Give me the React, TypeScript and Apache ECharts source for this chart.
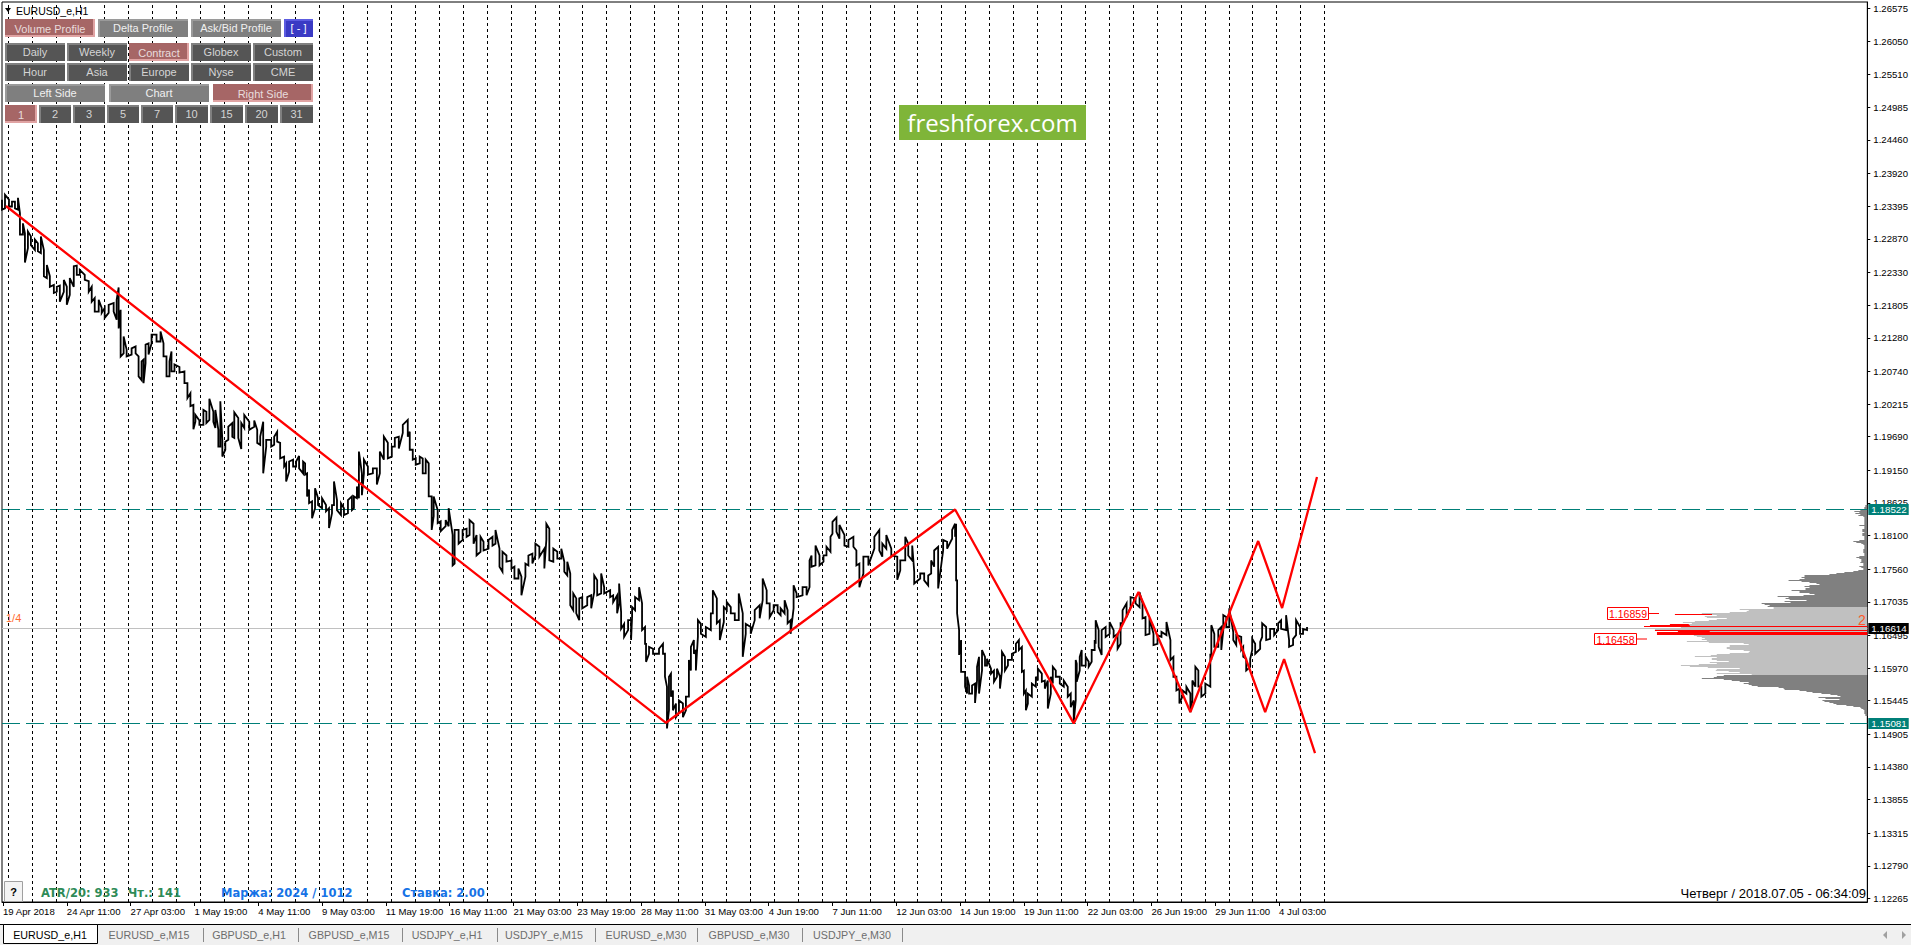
import React, { useEffect, useRef } from "react";
import * as echarts from "echarts";

// ---- price bars: bar position, high and low in pips (1/10000) ----
const barIndex = [
  0,3,7,10,13,16,18,21,23,26,29,33,36,39,42,45,48,52,55,58,62,65,68,72,75,78,83,87,90,93,97,100,103,107,112,115,117,119,122,125,130,134,137,140,142,144,147,150,155,159,162,165,168,170,173,178,183,186,189,192,194,198,202,205,208,212,214,217,219,221,224,227,231,233,237,240,243,248,253,256,259,262,265,270,273,276,279,283,285,288,292,295,298,302,304,306,308,311,314,317,321,325,328,331,333,336,340,343,347,351,353,356,358,361,363,367,372,376,379,383,387,391,394,398,402,407,409,412,415,419,422,425,428,431,433,437,440,445,448,
  452,454,458,462,466,469,473,476,480,483,488,492,495,499,502,506,511,514,518,521,525,528,532,535,539,544,546,549,553,557,561,564,567,570,573,576,579,582,587,591,594,597,601,604,610,613,617,619,621,624,628,631,632,635,639,642,645,646,649,653,659,663,665,667,669,671,673,676,679,683,686,689,691,694,696,698,701,706,711,713,717,720,724,727,731,735,739,743,746,751,755,760,763,767,770,774,778,781,785,788,791,794,797,803,807,810,812,816,820,824,827,831,833,837,840,845,849,854,857,860,864,869,875,880,883,887,892,898,901,906,909,913,915,921,925,929,932,935,939,944,948,953,956,957,958,960,962,966,968,
  970,973,976,978,980,983,986,988,992,995,998,1001,1003,1006,1009,1013,1017,1020,1023,1025,1027,1029,1033,1037,1039,1043,1046,1049,1052,1054,1057,1061,1065,1069,1072,1075,1077,1078,1081,1083,1087,1090,1093,1096,1097,1100,1103,1107,1111,1115,1119,1122,1124,1128,1132,1137,1141,1144,1147,1151,1155,1159,1163,1168,1172,1175,1178,1181,1184,1188,1192,1194,1197,1200,1203,1207,1212,1213,1216,1220,1223,1225,1228,1231,1235,1238,1243,1245,1248,1252,1254,1257,1262,1264,1268,1272,1276,1280,1283,1288,1291,1295,1298,1302,1305,1309,
];
const barHigh = [
  12350,12358,12350,12347,12347,12353,12328,12312,12296,12299,12291,12286,12280,12291,12269,12245,12227,12213,12210,12212,12221,12210,12224,12243,12244,12237,12229,12219,12210,12192,12189,12176,12176,12181,12184,12189,12209,12173,12130,12109,12111,12114,12098,12090,12093,12117,12119,12133,12133,12138,12119,12098,12090,12106,12085,12081,12074,12055,12039,12020,12004,11995,12012,12009,12030,12009,12012,11980,12026,11964,11961,11985,11991,12008,11999,11991,12004,11993,11995,11980,11969,11993,11964,11964,11969,11977,11959,11937,11926,11929,11932,11929,11938,11929,11926,11910,11884,11865,11886,11870,11870,11859,11854,11859,11897,11867,11862,11854,11867,11873,11873,11889,11945,11910,11932,11921,11918,11918,11945,11969,11959,11953,11967,11969,11988,11996,11977,11948,11934,11937,11934,11932,11926,11873,11873,11851,11833,11835,11854,
  11811,11819,11819,11819,11821,11835,11829,11811,11808,11800,11803,11808,11819,11789,11784,11778,11770,11760,11757,11744,11765,11778,11781,11797,11792,11789,11829,11821,11789,11784,11789,11768,11768,11749,11717,11709,11709,11711,11711,11714,11746,11738,11749,11727,11722,11714,11714,11733,11687,11668,11674,11674,11695,11711,11727,11701,11663,11636,11631,11628,11628,11636,11620,11567,11583,11588,11561,11540,11545,11540,11551,11610,11631,11642,11626,11674,11668,11663,11685,11722,11709,11674,11695,11703,11695,11685,11717,11685,11668,11663,11690,11698,11741,11722,11701,11698,11698,11693,11706,11690,11674,11730,11717,11727,11727,11770,11778,11794,11778,11778,11792,11808,11832,11839,11827,11811,11803,11808,11786,11765,11776,11776,11808,11819,11797,11811,11789,11776,11770,11808,11797,11794,11752,11749,11749,11746,11770,11786,11792,11803,11800,11819,11829,11829,11738,11658,11642,11591,11583,
  11569,11569,11572,11599,11615,11626,11615,11612,11596,11593,11596,11583,11623,11615,11610,11620,11636,11642,11631,11593,11561,11556,11572,11583,11596,11588,11577,11577,11583,11599,11593,11583,11577,11567,11556,11545,11610,11604,11615,11626,11615,11607,11626,11642,11674,11658,11658,11663,11671,11658,11652,11669,11690,11701,11711,11709,11719,11701,11679,11677,11652,11650,11655,11671,11642,11615,11583,11564,11561,11567,11556,11577,11599,11593,11567,11572,11620,11666,11652,11658,11663,11682,11679,11693,11655,11650,11647,11631,11612,11612,11644,11636,11639,11669,11663,11660,11660,11669,11674,11682,11642,11644,11674,11663,11660,11663,
];
const barLow = [
  12334,12336,12339,12339,12336,12334,12294,12294,12249,12272,12277,12269,12267,12264,12227,12224,12210,12200,12202,12186,12202,12181,12197,12210,12229,12229,12221,12202,12186,12170,12170,12168,12160,12168,12170,12157,12143,12098,12103,12098,12101,12103,12066,12060,12055,12087,12101,12119,12122,12122,12098,12066,12066,12074,12074,12072,12055,12031,12018,11981,11993,11988,11988,11991,11996,11993,11983,11953,11953,11937,11948,11964,11969,11967,11967,11949,11983,11980,11985,11959,11956,11910,11953,11953,11956,11961,11934,11921,11897,11913,11921,11921,11918,11910,11908,11873,11862,11838,11854,11859,11854,11849,11822,11846,11859,11851,11843,11843,11846,11851,11854,11870,11870,11875,11910,11908,11910,11892,11910,11932,11934,11937,11953,11950,11975,11969,11948,11932,11924,11926,11910,11910,11873,11819,11841,11830,11817,11825,11825,
  11762,11765,11797,11803,11808,11811,11797,11778,11784,11786,11789,11794,11797,11760,11752,11768,11757,11741,11741,11714,11744,11762,11765,11778,11776,11757,11803,11770,11768,11773,11773,11752,11746,11698,11690,11685,11674,11693,11698,11693,11719,11714,11717,11717,11711,11703,11685,11701,11660,11647,11658,11642,11679,11690,11706,11658,11636,11607,11620,11620,11620,11620,11583,11500,11529,11551,11529,11518,11526,11518,11529,11551,11593,11620,11593,11647,11652,11647,11658,11685,11669,11642,11671,11690,11685,11674,11674,11615,11652,11652,11674,11677,11706,11701,11679,11690,11687,11682,11685,11669,11652,11693,11711,11714,11714,11727,11760,11762,11762,11768,11778,11784,11813,11816,11805,11794,11792,11792,11762,11727,11749,11762,11789,11786,11776,11789,11778,11739,11754,11770,11778,11770,11733,11741,11738,11730,11749,11760,11725,11786,11789,11805,11808,11738,11685,11618,11591,11567,11556,
  11556,11556,11541,11577,11556,11593,11601,11601,11588,11575,11583,11564,11593,11593,11601,11610,11623,11626,11591,11556,11529,11540,11551,11567,11577,11575,11564,11532,11556,11572,11583,11572,11567,11551,11534,11510,11545,11575,11593,11601,11601,11599,11607,11626,11636,11631,11618,11647,11652,11647,11628,11636,11669,11679,11695,11701,11695,11677,11650,11652,11634,11636,11647,11650,11610,11583,11561,11540,11551,11556,11526,11545,11567,11567,11551,11556,11567,11610,11631,11631,11626,11658,11663,11663,11642,11634,11626,11615,11593,11599,11626,11620,11628,11647,11642,11644,11650,11658,11660,11658,11631,11634,11650,11652,11652,11658,
];

// ---- red zigzag: bar position and price ----
const zigzagBars = [4, 666, 956, 1075, 1140, 1192, 1231];
const zigzagPrices = [1.23398, 1.1509, 1.18519, 1.1508, 1.17192, 1.15263, 1.16855];
const upperBranchBars = [1231, 1260, 1284, 1319];
const upperBranchPrices = [1.16855, 1.18012, 1.16935, 1.19041];
const lowerBranchBars = [1231, 1267, 1286, 1317];
const lowerBranchPrices = [1.16855, 1.15263, 1.16115, 1.14604];

// ---- levels ----
const resistanceLevel = 1.18522;
const supportLevel = 1.15081;
const currentPrice = 1.16614;
const plotEnd = 1871;
const axisMinPrice = 1.12209;
const axisMaxPrice = 1.26678;
const plotTop = 2;
const plotBottomGap = 45;
const pageHeight = 947;

// ---- volume profile (one row per price step, top to bottom) ----
const profileTopPrice = 1.18591;
const profileStep = 0.00016077;
const valueAreaHigh = 1.16959;
const valueAreaLow = 1.15866;
const profileVolumes = [
  2,2,3,3,5,7,13,8,12,7,9,4,3,3,3,3,3,3,3,3,8,3,3,3,5,5,5,3,5,5,5,3,3,3,3,8,14,11,6,4,3,3,3,3,4,4,4,4,3,3,3,8,11,8,6,6,6,7,4,4,4,8,6,4,4,9,14,23,31,38,
  63,63,66,63,68,79,66,58,51,48,58,63,58,62,62,76,68,68,58,53,64,90,79,82,78,61,83,77,106,103,98,100,
  94,94,128,119,121,138,166,159,151,163,161,141,151,159,173,185,176,179,178,224,187,213,213,213,158,211,211,211,
  174,171,166,163,166,161,181,159,124,119,138,138,141,141,138,124,118,119,138,151,157,173,151,156,156,151,139,158,151,169,187,178,160,128,151,152,139,128,151,116,
  144,151,154,166,144,136,128,119,124,119,116,110,89,84,83,68,61,55,46,37,30,27,49,42,28,45,43,38,34,31,21,14,7,6,4,3,3,3,3,2,2,
];
const peakPrices = [1.16839, 1.16678, 1.16662, 1.16646, 1.16614, 1.16581, 1.16565, 1.16549, 1.16533, 1.16517];
const peakFrom = [159, 179, 178, 0, 0, 0, 158, 0, 0, 0];
const peakTo = [193, 198, 218, 224, 213, 213, 190, 211, 211, 211];

// ---- axes ----
const dayLineBars = [
  6,30,54,78,102,126,150,174,198,222,246,270,294,318,342,366,390,414,438,462,486,510,534,558,582,606,630,654,678,702,726,750,774,798,822,846,870,894,918,942,966,990,1014,1038,1062,1086,1110,1134,1158,1182,1206,1230,1254,1278,1302,1326,
];
const timeTickBars = [1,65,129,193,257,321,385,449,513,577,641,705,769,833,897,961,1025,1089,1153,1217,1281];
const timeTickLabels = [
  "19 Apr 2018","24 Apr 11:00","27 Apr 03:00","1 May 19:00","4 May 11:00","9 May 03:00","11 May 19:00","16 May 11:00","21 May 03:00","23 May 19:00","28 May 11:00","31 May 03:00","4 Jun 19:00","7 Jun 11:00","12 Jun 03:00","14 Jun 19:00","19 Jun 11:00","22 Jun 03:00","26 Jun 19:00","29 Jun 11:00","4 Jul 03:00",
];
const priceTicks = [
  1.26575,1.2605,1.2551,1.24985,1.2446,1.2392,1.23395,1.2287,1.2233,1.21805,1.2128,1.2074,1.20215,1.1969,1.1915,1.18625,1.181,1.1756,1.17035,1.16495,1.1597,1.15445,1.14905,1.1438,1.13855,1.13315,1.1279,1.12265,
];

// ---- panel buttons ----
const buttonLabels = [
  "Volume Profile","Delta Profile","Ask/Bid Profile","[ - ]",
  "Daily","Weekly","Contract","Globex","Custom",
  "Hour","Asia","Europe","Nyse","CME",
  "Left Side","Chart","Right Side",
  "1","2","3","5","7","10","15","20","31",
];
const buttonKinds = [
  "on","mid","mid","blue",
  "dark","dark","on","dark","dark",
  "dark","dark","dark","dark","dark",
  "mid","mid","on",
  "on","dark","dark","dark","dark","dark","dark","dark","dark",
];
const buttonBoxes = [
  [5,19,90,18],[98,19,90,18],[191,19,90,18],[284,19,29,18],
  [5,43,60,18],[67,43,60,18],[129,43,60,18],[191,43,60,18],[253,43,60,18],
  [5,63,60,18],[67,63,60,18],[129,63,60,18],[191,63,60,18],[253,63,60,18],
  [5,84,100,18],[109,84,100,18],[213,84,100,18],
  [5,105,32,18],[39,105,32,18],[73,105,32,18],[107,105,32,18],[141,105,32,18],[175,105,33,18],[210,105,33,18],[245,105,33,18],[280,105,33,18],
];

// ---- tabs ----
const tabLabels = ["EURUSD_e,H1","EURUSD_e,M15","GBPUSD_e,H1","GBPUSD_e,M15","USDJPY_e,H1","USDJPY_e,M15","EURUSD_e,M30","GBPUSD_e,M30","USDJPY_e,M30"];
const tabCenters = [50,149,249,349,447,544,646,749,852];
const tabSeparators = [203,298,402,497,595,697,802,902];

const UI_FONT = '"Liberation Sans", Arial, sans-serif';

function buttonElements() {
  const palette: Record<string, string[]> = {
    on: ["#a66666", "#e0a3a3", "#e8dcdc"],
    mid: ["#7f7f7f", "#9a9a9a", "#f0f0f0"],
    dark: ["#555555", "#808080", "#d4d4d4"],
    blue: ["#3a3ac4", "#5c5ce0", "#ffffff"],
  };
  const out: any[] = [];
  buttonLabels.forEach((label, i) => {
    const [x, y, w, h] = buttonBoxes[i];
    const kind = buttonKinds[i];
    const [fill, edge, text] = palette[kind];
    out.push({ type: "rect", z: 100, shape: { x, y, width: w, height: h }, style: { fill: edge } });
    const pressed = kind === "on";
    out.push({
      type: "rect",
      z: 101,
      shape: pressed ? { x, y, width: w - 2, height: h - 2 } : { x: x + 2, y: y + 2, width: w - 2, height: h - 2 },
      style: { fill },
    });
    out.push({
      type: "text",
      z: 102,
      x: x + w / 2,
      y: y + h / 2 + (pressed ? 1 : 0),
      style: { text: label, fill: text, font: `11px ${UI_FONT}`, align: "center", verticalAlign: "middle" },
    });
  });
  return out;
}

function tabElements() {
  const out: any[] = [
    { type: "rect", z: 90, shape: { x: 0, y: 925, width: 1911, height: 20 }, style: { fill: "#f0f0f0" } },
    { type: "line", z: 92, shape: { x1: 0, y1: 924.5, x2: 1911, y2: 924.5 }, style: { stroke: "#000", lineWidth: 1 } },
    { type: "rect", z: 93, shape: { x: 3.5, y: 924.5, width: 94, height: 19 }, style: { fill: "#fff", stroke: "#000", lineWidth: 1 } },
    { type: "polygon", z: 93, shape: { points: [[1887, 931], [1883, 935], [1887, 939]] }, style: { fill: "#a0a0a0" } },
    { type: "polygon", z: 93, shape: { points: [[1902, 931], [1906, 935], [1902, 939]] }, style: { fill: "#a0a0a0" } },
  ];
  tabLabels.forEach((t, i) => {
    out.push({
      type: "text",
      z: 94,
      x: tabCenters[i],
      y: 935,
      style: { text: t, fill: i === 0 ? "#000" : "#6d6d6d", font: `10.7px ${UI_FONT}`, align: "center", verticalAlign: "middle" },
    });
  });
  tabSeparators.forEach((x) => {
    out.push({ type: "line", z: 94, shape: { x1: x + 0.5, y1: 928, x2: x + 0.5, y2: 942 }, style: { stroke: "#8a8a8a", lineWidth: 1 } });
  });
  return out;
}

function annotationElements() {
  const boxed = (text: string, x: number, y: number, w: number, h: number, tickFrom: number, tickTo: number) => [
    { type: "rect", z: 60, shape: { x: x + 0.5, y: y + 0.5, width: w, height: h }, style: { fill: "#fff", stroke: "#ff0000", lineWidth: 1 } },
    { type: "text", z: 61, x: x + w / 2 + 0.5, y: y + h / 2 + 1, style: { text, fill: "#ff0000", font: `10.5px ${UI_FONT}`, align: "center", verticalAlign: "middle" } },
    { type: "line", z: 60, shape: { x1: tickFrom, y1: y + h / 2 + 0.5, x2: tickTo, y2: y + h / 2 + 0.5 }, style: { stroke: "#ff0000", lineWidth: 1 } },
  ];
  return [
    ...boxed("1.16859", 1607, 607, 41, 12, 1648, 1659),
    ...boxed("1.16458", 1594, 633, 42, 11, 1636, 1647),
    { type: "line", z: 60, shape: { x1: 1678, y1: 614.5, x2: 1712, y2: 614.5 }, style: { stroke: "#ff0000", lineWidth: 1 } },
    { type: "text", z: 61, x: 1862, y: 620, style: { text: "2", fill: "#ff5a28", font: `14px ${UI_FONT}`, align: "center", verticalAlign: "middle" } },
    { type: "text", z: 61, x: 6, y: 618, style: { text: "1/4", fill: "#ff6a30", font: `11px ${UI_FONT}`, align: "left", verticalAlign: "middle" } },
    // symbol caption
    { type: "polygon", z: 61, shape: { points: [[5, 8], [11, 8], [8, 12]] }, style: { fill: "#000" } },
    { type: "text", z: 61, x: 16, y: 10.5, style: { text: "EURUSD_e,H1", fill: "#000", font: `10.5px ${UI_FONT}`, align: "left", verticalAlign: "middle" } },
    // watermark
    { type: "rect", z: 70, shape: { x: 899, y: 105, width: 187, height: 35 }, style: { fill: "#7fb539" } },
    { type: "text", z: 71, x: 992.5, y: 122, style: { text: "freshforex.com", fill: "#fff", font: '24px "Open Sans", sans-serif', align: "center", verticalAlign: "middle" } },
    // help button
    { type: "rect", z: 70, shape: { x: 4.5, y: 881.5, width: 18, height: 20 }, style: { fill: "#f4f4f4", stroke: "#a0a0a0", lineWidth: 1 } },
    { type: "text", z: 71, x: 13.5, y: 892, style: { text: "?", fill: "#000", font: `bold 11px ${UI_FONT}`, align: "center", verticalAlign: "middle" } },
    // status texts
    { type: "text", z: 71, x: 41, y: 893, style: { text: "ATR/20: 933", fill: "#2e8b57", font: 'bold 11.5px "DejaVu Sans", sans-serif', align: "left", verticalAlign: "middle" } },
    { type: "text", z: 71, x: 128, y: 893, style: { text: "Чт.: 141", fill: "#2e8b57", font: 'bold 11.5px "DejaVu Sans", sans-serif', align: "left", verticalAlign: "middle" } },
    { type: "text", z: 71, x: 221, y: 893, style: { text: "Маржа: 2024 / 1012", fill: "#1673e6", font: 'bold 11.5px "DejaVu Sans", sans-serif', align: "left", verticalAlign: "middle" } },
    { type: "text", z: 71, x: 402, y: 893, style: { text: "Ставка: 2.00", fill: "#1673e6", font: 'bold 11.5px "DejaVu Sans", sans-serif', align: "left", verticalAlign: "middle" } },
    { type: "text", z: 71, x: 1866, y: 893, style: { text: "Четверг / 2018.07.05 - 06:34:09", fill: "#000", font: `13px ${UI_FONT}`, align: "right", verticalAlign: "middle" } },
  ];
}

function pricePath() {
  // each bar runs from the end nearest the previous point to its other end
  const path: number[][] = [];
  let last = barHigh[0] / 10000;
  barIndex.forEach((bar, i) => {
    const hi = barHigh[i] / 10000;
    const lo = barLow[i] / 10000;
    if (Math.abs(hi - last) < Math.abs(lo - last)) {
      path.push([bar, hi], [bar, lo]);
      last = lo;
    } else {
      path.push([bar, lo], [bar, hi]);
      last = hi;
    }
  });
  return path;
}

// moves a level by less than a pixel so that its 1px line lands on a pixel row
function crispPrice(value: number) {
  const plotHeight = pageHeight - plotTop - plotBottomGap;
  const span = axisMaxPrice - axisMinPrice;
  const y = ((axisMaxPrice - value) / span) * plotHeight;
  return axisMaxPrice - ((Math.floor(y + plotTop) + 0.5 - plotTop) / plotHeight) * span;
}

function levelSeries(value: number, color: string, dashed: boolean, labelBg: string, z: number) {
  const drawn = crispPrice(value);
  return {
    type: "line",
    data: [[0, drawn], [plotEnd, drawn]],
    z,
    silent: true,
    showSymbol: false,
    symbol: "none",
    clip: false,
    lineStyle: { color, width: 1, type: dashed ? [18, 6] : "solid" },
    endLabel: {
      show: true,
      distance: 1,
      formatter: value.toFixed(5),
      color: "#fff",
      backgroundColor: labelBg,
      padding: [1, 2, 0, 3],
      fontFamily: UI_FONT,
      fontSize: 9.8,
    },
  };
}

export default function App() {
  const ref = useRef<HTMLDivElement>(null);
  useEffect(() => {
    document.body.style.margin = "0";
    document.body.style.background = "#fff";
    const chart = echarts.init(ref.current!, undefined, { renderer: "svg" });
    const profileData = profileVolumes.map((v, i) => [v, profileTopPrice - i * profileStep]);
    const peakData = peakPrices.map((p, i) => [peakFrom[i], peakTo[i], p]);

    chart.setOption({
      animation: false,
      backgroundColor: "#fff",
      grid: { left: 0, right: 40, top: plotTop, bottom: plotBottomGap, show: true, borderColor: "#000", borderWidth: 1, backgroundColor: "#fff", containLabel: false },
      xAxis: [
        {
          type: "value",
          min: 0,
          max: plotEnd,
          axisLine: { show: true, lineStyle: { color: "#000" } },
          axisTick: { show: true, length: 4, lineStyle: { color: "#000" }, customValues: timeTickBars },
          axisLabel: {
            show: true,
            customValues: timeTickBars,
            formatter: (v: number) => timeTickLabels[timeTickBars.indexOf(v)] ?? "",
            align: "left",
            margin: 4,
            color: "#000",
            fontFamily: UI_FONT,
            fontSize: 9.6,
          },
          splitLine: { show: false },
        },
        { type: "value", min: 0, max: plotEnd, inverse: true, position: "top", show: false },
      ],
      yAxis: {
        type: "value",
        position: "right",
        min: axisMinPrice,
        max: axisMaxPrice,
        axisLine: { show: true, onZero: false, lineStyle: { color: "#000" } },
        axisTick: { show: true, length: 3, lineStyle: { color: "#000" }, customValues: priceTicks },
        axisLabel: {
          show: true,
          customValues: priceTicks,
          formatter: (v: number) => v.toFixed(5),
          margin: 6,
          color: "#000",
          fontFamily: UI_FONT,
          fontSize: 9.6,
        },
        splitLine: { show: false },
      },
      graphic: { elements: [...annotationElements(), ...tabElements(), ...buttonElements()] },
      series: [
        {
          type: "line",
          name: "day lines",
          data: [],
          z: 1,
          silent: true,
          markLine: {
            silent: true,
            symbol: ["none", "none"],
            label: { show: false },
            lineStyle: { color: "#000", width: 1, type: [3, 3] },
            data: dayLineBars.map((b) => ({ xAxis: b + 0.5 })),
          },
        },
        {
          type: "custom",
          name: "profile",
          xAxisIndex: 1,
          z: 2,
          silent: true,
          data: profileData,
          encode: { x: 0, y: 1 },
          renderItem: (_: any, api: any) => {
            const price = api.value(1);
            const end = api.coord([api.value(0), price]);
            const start = api.coord([0, price]);
            const y = Math.round(end[1]);
            const inValue = price <= valueAreaHigh && price >= valueAreaLow;
            return {
              type: "rect",
              shape: { x: end[0], y, width: start[0] - end[0], height: 1 },
              style: { fill: inValue ? "#c0c0c0" : "#808080" },
            };
          },
        },
        {
          type: "custom",
          name: "profile peak",
          xAxisIndex: 1,
          z: 3,
          silent: true,
          data: peakData,
          encode: { x: [0, 1], y: 2 },
          renderItem: (_: any, api: any) => {
            const a = api.coord([api.value(1), api.value(2)]);
            const b = api.coord([api.value(0), api.value(2)]);
            return {
              type: "rect",
              shape: { x: a[0], y: Math.round(a[1]), width: b[0] - a[0], height: 1 },
              style: { fill: "#ff0000" },
            };
          },
        },
        levelSeries(currentPrice, "#c0c0c0", false, "#000", 4),
        levelSeries(resistanceLevel, "#007f78", true, "#007f78", 4),
        levelSeries(supportLevel, "#007f78", true, "#007f78", 4),
        {
          type: "line",
          name: "EURUSD",
          data: pricePath(),
          z: 5,
          showSymbol: false,
          symbol: "none",
          silent: true,
          lineStyle: { color: "#000", width: 1.8, join: "miter" },
        },
        ...[
          [zigzagBars, zigzagPrices],
          [upperBranchBars, upperBranchPrices],
          [lowerBranchBars, lowerBranchPrices],
        ].map(([bars, prices]) => ({
          type: "line",
          data: bars.map((b, i) => [b, prices[i]]),
          z: 6,
          showSymbol: false,
          symbol: "none",
          silent: true,
          lineStyle: { color: "#ff0000", width: 2.3 },
        })),
      ],
    });
    return () => chart.dispose();
  }, []);
  return <div ref={ref} style={{ position: "absolute", left: 0, top: 0, width: 1911, height: pageHeight }} />;
}
